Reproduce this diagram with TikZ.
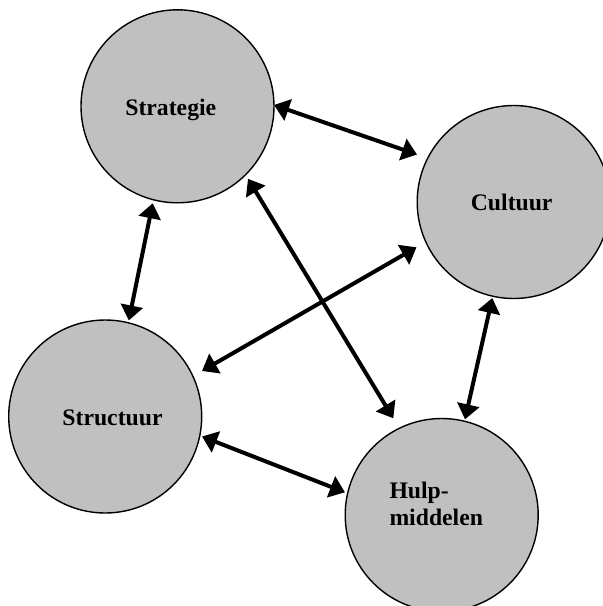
\documentclass[tikz,border=0pt]{standalone}
\usepackage{fontspec}
\setmainfont{Liberation Serif}
\usetikzlibrary{arrows.meta}
\definecolor{circfill}{RGB}{192,192,192}
\tikzset{
  bubble/.style={circle, draw=black, line width=1.4pt, fill=circfill, minimum size=193pt, inner sep=0pt},
  lbl/.style={font=\fontsize{23.7}{27}\selectfont\bfseries, inner sep=0pt},
  link/.style={line width=4pt, {Triangle[length=15pt,width=22pt]}-{Triangle[length=15pt,width=22pt]}}
}
\begin{document}
\begin{tikzpicture}[x=1pt,y=-1pt]
\useasboundingbox (0,0) rectangle (603,606);
\node[bubble] (strat) at (177.5,106.3) {};
\node[bubble] (cult) at (513.7,202) {};
\node[bubble] (struc) at (105.2,416.5) {};
\node[bubble] (hulp) at (441.7,515) {};
\node[lbl, anchor=base] (stratt) at (170.8,115) {Strategie};
\node[lbl, anchor=base] (cultt) at (511.7,210) {Cultuur};
\node[lbl, anchor=base] (struct) at (112.5,425) {Structuur};
\node[lbl, anchor=base west, align=left] (hulpt) at (389.3,525.3) {Hulp-\\middelen};
\draw[link] ([shift={(96.5,-1.3)}]strat.center) -- ([shift={(-96.7,-47.5)}]cult.center);
\draw[link] ([shift={(-24.8,97)}]strat.center) -- ([shift={(23.6,-96.1)}]struc.center);
\draw[link] ([shift={(70.5,72.5)}]strat.center) -- ([shift={(-48.4,-96.7)}]hulp.center);
\draw[link] ([shift={(-97.2,45.3)}]cult.center) -- ([shift={(96.8,-45.5)}]struc.center);
\draw[link] ([shift={(-21.4,96)}]cult.center) -- ([shift={(23.3,-95.7)}]hulp.center);
\draw[link] ([shift={(96.8,20)}]struc.center) -- ([shift={(-96.7,-22.7)}]hulp.center);
\end{tikzpicture}
\end{document}
